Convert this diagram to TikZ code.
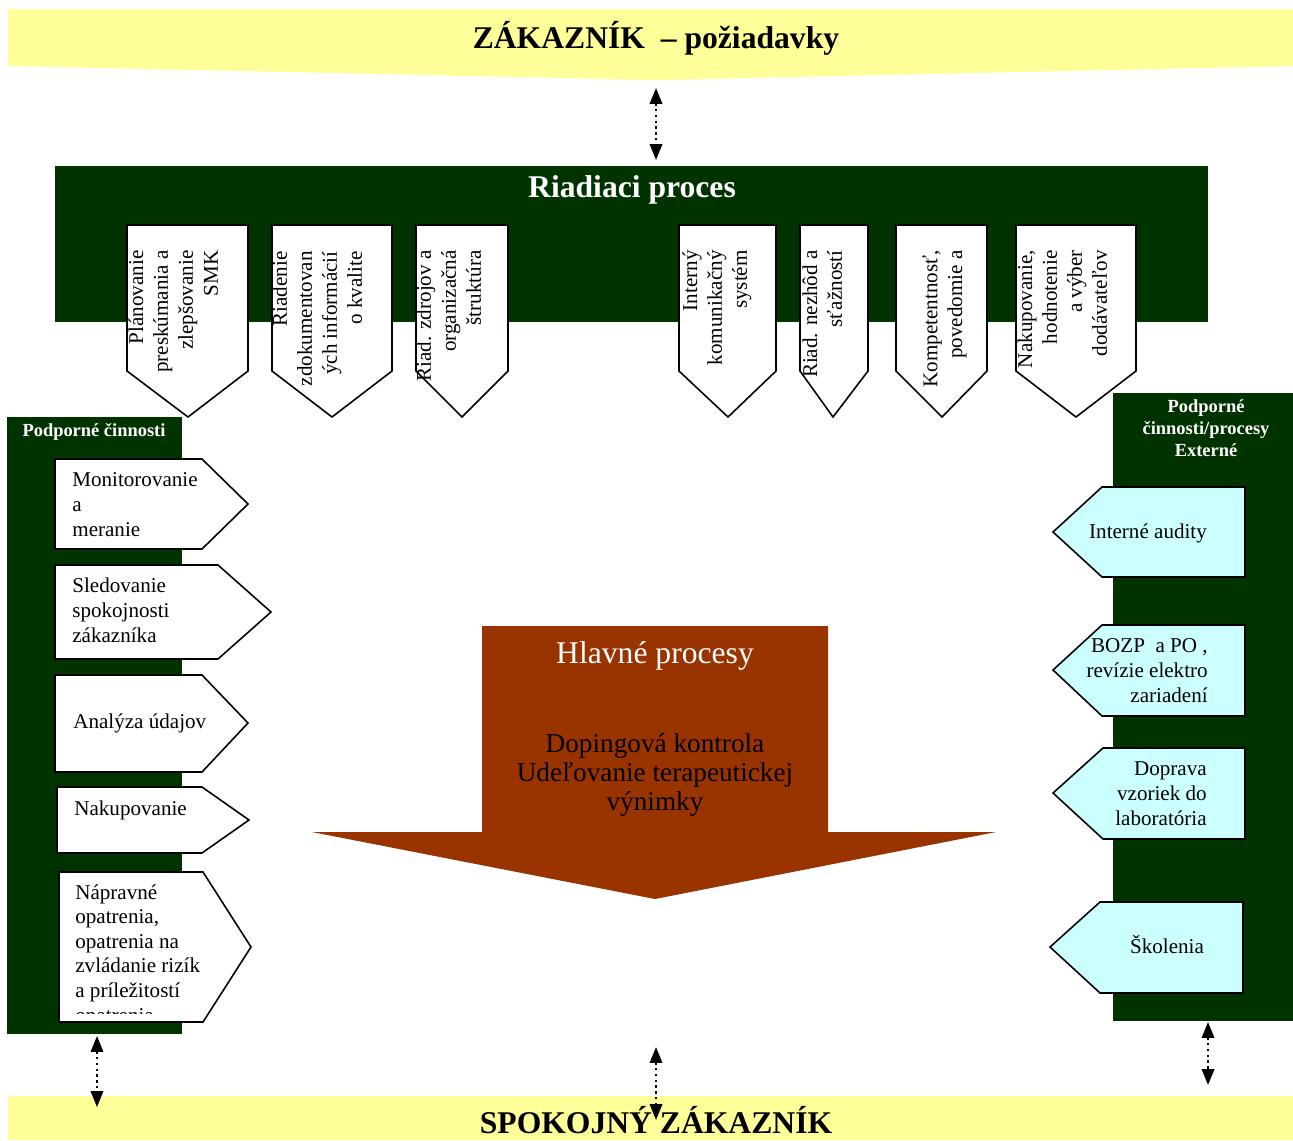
\documentclass[tikz,border=0pt]{standalone}
\usepackage{fontspec}
\setmainfont{Liberation Serif}
\usetikzlibrary{arrows.meta}
\definecolor{dkgreen}{RGB}{0,51,0}
\definecolor{ylw}{RGB}{255,255,153}
\definecolor{cyanl}{RGB}{204,255,255}
\definecolor{brn}{RGB}{153,51,0}
\begin{document}
\begin{tikzpicture}[x=0.02cm,y=-0.02cm,
  pent/.style={draw=black,line width=0.9pt,fill=white,line join=miter},
  rpent/.style={pent,fill=cyanl},
  rot/.style={rotate=90,anchor=north east,align=right,inner sep=0pt,font=\fontsize{12}{14.2}\selectfont},
  ltxt/.style={anchor=base west,align=left,inner sep=0pt,font=\fontsize{12}{14}\selectfont},
  rtxt/.style={anchor=base east,align=right,inner sep=0pt,font=\fontsize{12}{14}\selectfont},
  ctxt/.style={anchor=base,align=center,inner sep=0pt,font=\fontsize{12}{14}\selectfont},
  dotarrow/.style={{Triangle[width=7pt,length=9pt]}-{Triangle[width=7pt,length=9pt]},dotted,line width=1.3pt},
 ]
\useasboundingbox (0,0) rectangle (1293,1140);
% customer bands
\fill[ylw] (8,9) -- (1293,9) -- (1293,66) -- (656,80) -- (8,66) -- cycle;
\node[font=\fontsize{18}{20}\selectfont\bfseries,inner sep=0pt] (zak) at (656,38) {ZÁKAZNÍK\ \ – požiadavky};
\fill[ylw] (8,1096) rectangle (1293,1140);
% green bars
\fill[dkgreen] (55,166) rectangle (1208,322);
\node[font=\fontsize{18}{20}\selectfont\bfseries,text=white,inner sep=0pt] (riad) at (632,190) {Riadiaci proces};
\fill[dkgreen] (7,417) rectangle (182,1034);
\node[font=\fontsize{10.5}{12.5}\selectfont\bfseries,text=white,inner sep=0pt,anchor=base] (podl) at (94,436) {Podporné činnosti};
\fill[dkgreen] (1113,393) rectangle (1293,1021);
\node[font=\fontsize{10.5}{12.5}\selectfont\bfseries,text=white,inner sep=0pt,anchor=base,align=center] (podr) at (1206,456) {Podporné\\činnosti/procesy\\Externé};
% top pentagons
\draw[pent] (127,225) -- (248,225) -- (248,371) -- (188,417) -- (127,371) -- cycle;
\draw[pent] (272,225) -- (392,225) -- (392,371) -- (332,417) -- (272,371) -- cycle;
\draw[pent] (416,225) -- (508,225) -- (508,371) -- (462,417) -- (416,371) -- cycle;
\draw[pent] (679,225) -- (776,225) -- (776,371) -- (728,417) -- (679,371) -- cycle;
\draw[pent] (800,225) -- (868,225) -- (868,371) -- (833,417) -- (800,371) -- cycle;
\draw[pent] (896,225) -- (987,225) -- (987,371) -- (942,417) -- (896,371) -- cycle;
\draw[pent] (1016,225) -- (1136,225) -- (1136,371) -- (1076,417) -- (1016,371) -- cycle;
\node[rot] (t1) at (128,250) {Plánovanie\\preskúmania a\\zlepšovanie\\SMK};
\node[rot] (t2) at (272,251) {Riadenie\\zdokumentovan\\ých informácií\\o kvalite};
\node[rot] (t3) at (416,250) {Riad. zdrojov a\\organizačná\\štruktúra};
\node[rot] (t4) at (682,250) {Interný\\komunikačný\\systém};
\node[rot] (t5) at (802,250) {Riad. nezhôd a\\sťažností};
\node[rot] (t6) at (922,250) {Kompetentnosť,\\povedomie a};
\node[rot] (t7) at (1017,250) {Nakupovanie,\\hodnotenie\\a výber\\dodávateľov};
% left pentagons
\draw[pent] (55,459) -- (202,459) -- (248,504) -- (202,549) -- (55,549) -- cycle;
\draw[pent] (55,565) -- (218,565) -- (271,612) -- (218,659) -- (55,659) -- cycle;
\draw[pent] (55,675) -- (202,675) -- (248,723) -- (202,772) -- (55,772) -- cycle;
\draw[pent] (57,787) -- (202,787) -- (249,820) -- (202,853) -- (57,853) -- cycle;
\draw[pent] (59,872) -- (203,872) -- (251,947) -- (203,1022) -- (59,1022) -- cycle;
\node[ltxt] (l1) at (72,536) {Monitorovanie\\a\\meranie};
\node[ltxt] (l2) at (72,642) {Sledovanie\\spokojnosti\\zákazníka};
\node[ltxt] (l3) at (73,728) {Analýza údajov};
\node[ltxt] (l4) at (74,815) {Nakupovanie};
\begin{scope}
\clip (60,873) rectangle (230,1013);
\node[ltxt] (l5) at (75,1022) {Nápravné\\opatrenia,\\opatrenia na\\zvládanie rizík\\a príležitostí\\opatrenia};
\end{scope}
% right pentagons
\draw[rpent] (1053,532) -- (1102,487) -- (1245,487) -- (1245,577) -- (1102,577) -- cycle;
\draw[rpent] (1053,670) -- (1102,625) -- (1245,625) -- (1245,716) -- (1102,716) -- cycle;
\draw[rpent] (1053,793) -- (1103,748) -- (1245,748) -- (1245,839) -- (1103,839) -- cycle;
\draw[rpent] (1050,947) -- (1100,902) -- (1243,902) -- (1243,993) -- (1100,993) -- cycle;
\node[ctxt] (r1) at (1148,538) {Interné audity};
\node[rtxt] (r2) at (1208,702) {BOZP\ \ a PO ,\\revízie elektro\\zariadení};
\node[rtxt] (r3) at (1207,825) {Doprava\\vzoriek do\\laboratória};
\node[ctxt] (r4) at (1167,953) {Školenia};
% main process arrow
\fill[brn] (482,626) -- (828,626) -- (828,832) -- (996,832) -- (655,899) -- (312,832) -- (482,832) -- cycle;
\node[font=\fontsize{18}{20}\selectfont,text=white,inner sep=0pt] (hp) at (655,656) {Hlavné procesy};
\node[font=\fontsize{15.5}{16.3}\selectfont,align=center,inner sep=0pt] (dk) at (655,775) {Dopingová kontrola\\Udeľovanie terapeutickej\\výnimky};
\node[font=\fontsize{18}{20}\selectfont\bfseries,inner sep=0pt,anchor=base] (spok) at (656,1133) {SPOKOJNÝ ZÁKAZNÍK};
% dotted double arrows
\coordinate (a1s) at (656,88); \coordinate (a1e) at (656,160);
\coordinate (a2s) at (97,1036); \coordinate (a2e) at (97,1107);
\coordinate (a3s) at (656,1047); \coordinate (a3e) at (656,1120);
\coordinate (a4s) at (1208,1022); \coordinate (a4e) at (1208,1085);
\draw[dotarrow] (a1s) -- (a1e);
\draw[dotarrow] (a2s) -- (a2e);
\draw[dotarrow] (a3s) -- (a3e);
\draw[dotarrow] (a4s) -- (a4e);
\end{tikzpicture}
\end{document}
